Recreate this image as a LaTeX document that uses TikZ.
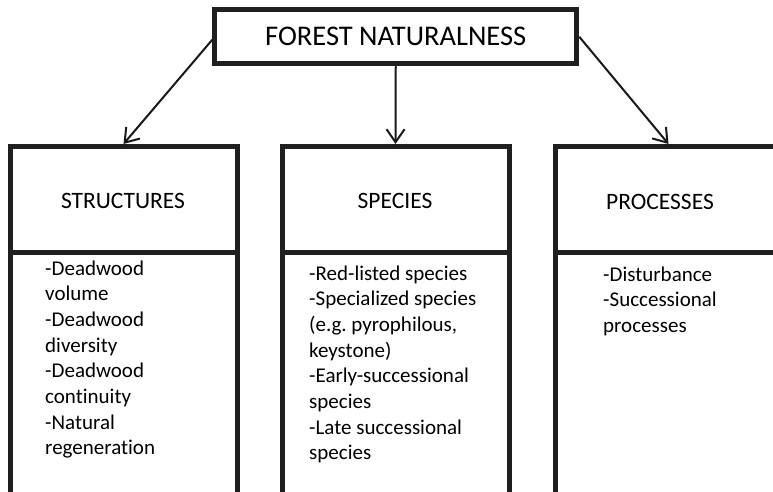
\documentclass[tikz,border=0pt]{standalone}
\usepackage{fontspec}
\setmainfont{Carlito}[Ligatures=NoCommon]
\usetikzlibrary{arrows.meta}
\begin{document}
\frenchspacing
\begin{tikzpicture}[x=1pt,y=-1pt,
  topbox/.style={draw=black!88, line width=5pt, rectangle, minimum width=362pt, minimum height=54pt, inner sep=0pt, font=\fontsize{28.5}{34}\selectfont},
  hdrbox/.style={draw=black!88, line width=5pt, rectangle, minimum width=227pt, minimum height=105.5pt, inner sep=0pt},
  bodybox/.style={draw=black!88, line width=5pt, rectangle, minimum width=227pt, minimum height=242pt, inner sep=0pt},
  hdrtext/.style={inner sep=0pt, font=\fontsize{23.5}{28}\selectfont},
  bodytext/.style={inner sep=0pt, anchor=base west, align=flush left, text width=200pt, font=\fontsize{21}{25.7}\selectfont\frenchspacing},
  conn/.style={draw=black!90, line width=2pt, -{Straight Barb[length=13pt,width=18pt,line width=2pt]}}
]
\useasboundingbox (0,0) rectangle (773,492);
\clip (0,0) rectangle (773,492);
\fill[white] (0,0) rectangle (773,492);

\node[topbox] (top) at (395.75,36.75) {FOREST NATURALNESS};

\node[hdrbox] (structures) at (123.5,199.25) {};
\node[hdrbox] (species) at (395.5,199.25) {};
\node[hdrbox] (processes) at (668.5,199.25) {};

\node[bodybox] (structuresbody) at (123.5,373) {};
\node[bodybox] (speciesbody) at (395.5,373) {};
\node[bodybox] (processesbody) at (668.5,373) {};

\node[hdrtext] (structurest) at (123,201) {STRUCTURES};
\node[hdrtext] (speciest) at (395,201) {SPECIES};
\node[hdrtext] (processest) at (660,201.5) {PROCESSES};

\node[bodytext] (structurestxt) at (45,275) {-Deadwood\\volume\\-Deadwood\\diversity\\-Deadwood\\continuity\\-Natural\\regeneration};
\node[bodytext] (speciestxt) at (309,280) {-Red-listed species\\-Specialized species\\(e.g.\ pyrophilous,\\keystone)\\-Early-successional\\species\\-Late successional\\species};
\node[bodytext] (processestxt) at (603,281) {-Disturbance\\-Successional\\processes};

\draw[conn] ([yshift=-3pt]top.west) -- (structures.north);
\draw[conn] (top.south) -- (species.north);
\draw[conn] (top.east) -- (processes.north);
\end{tikzpicture}
\end{document}
